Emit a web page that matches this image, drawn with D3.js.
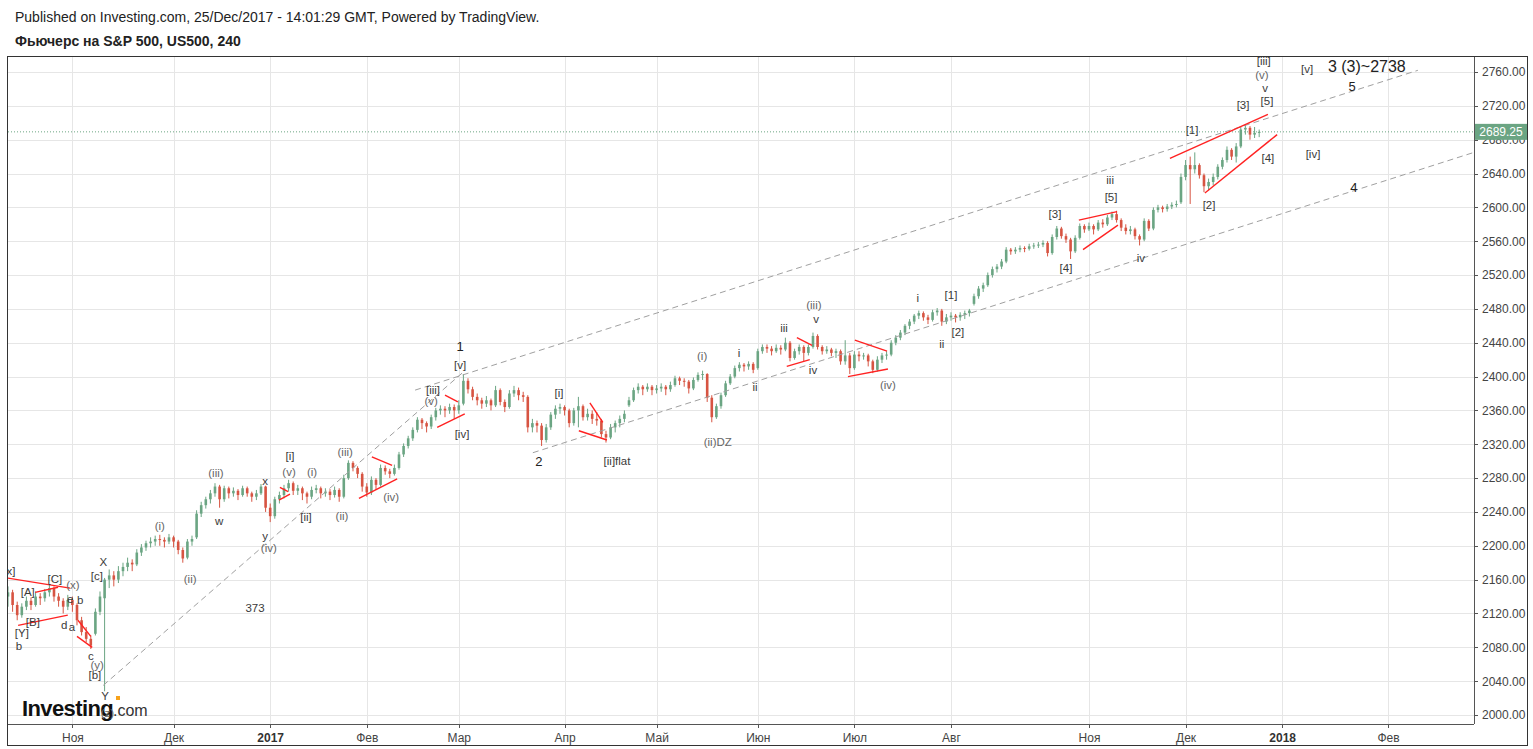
<!DOCTYPE html>
<html lang="ru">
<head>
<meta charset="UTF-8">
<title>Фьючерс на S&amp;P 500, US500, 240</title>
<script src="https://d3js.org/d3.v7.min.js"></script>
<style>
  body { margin: 0; background: #fff; font-family: "Liberation Sans", Arial, sans-serif; }
  svg { display: block; }
  .grid line { stroke: #e6e6e6; stroke-width: 1; shape-rendering: crispEdges; }
  .axis text { fill: #444; font-size: 12px; font-family: "Liberation Sans Narrow", "Liberation Sans", Arial, sans-serif; }
  .axis line { stroke: #555; shape-rendering: crispEdges; }
  .axis .domain { display: none; }
  .wave { font-size: 11.5px; fill: #3a3a3a; text-anchor: middle; dominant-baseline: middle; }
  .wave.paren { fill: #666; }
  .major { font-size: 13px; fill: #222; text-anchor: middle; dominant-baseline: middle; }
  .target { font-size: 16px; fill: #222; text-anchor: middle; dominant-baseline: middle; }
  .header { font-size: 14px; fill: #222; }
</style>
</head>
<body>
<svg id="chart" width="1533" height="749"></svg>
<script>
// daily candles [open, high, low, close]
const candles = [
  [2140,2152,2128,2145],[2145,2148,2122,2130],[2130,2134,2112,2118],[2118,2132,2115,2128],[2128,2140,2124,2135],
  [2135,2139,2124,2130],[2130,2146,2128,2140],[2140,2144,2130,2138],[2138,2149,2134,2145],[2145,2154,2140,2150],
  [2150,2152,2134,2140],[2140,2144,2128,2135],[2135,2138,2120,2128],[2128,2142,2124,2136],[2136,2140,2122,2130],
  [2130,2132,2106,2112],[2112,2116,2094,2098],[2098,2104,2086,2090],[2090,2094,2078,2082],[2096,2126,2094,2122],
  [2122,2146,2118,2140],[2138,2162,2028,2160],[2160,2172,2150,2165],[2165,2170,2152,2160],[2160,2176,2156,2170],
  [2170,2180,2164,2175],[2175,2186,2170,2180],[2180,2184,2170,2178],[2178,2196,2176,2192],[2192,2202,2188,2198],
  [2198,2206,2194,2203],[2203,2210,2198,2205],[2205,2212,2200,2208],[2208,2213,2200,2207],[2207,2210,2198,2205],
  [2205,2214,2202,2210],[2210,2212,2198,2205],[2205,2207,2190,2195],[2195,2198,2180,2185],[2186,2208,2184,2205],
  [2205,2212,2200,2208],[2210,2242,2208,2238],[2238,2252,2234,2248],[2248,2258,2244,2255],[2255,2266,2250,2262],
  [2262,2274,2258,2270],[2270,2272,2245,2255],[2255,2271,2252,2268],[2268,2270,2256,2262],[2262,2269,2258,2265],
  [2265,2267,2254,2260],[2260,2271,2258,2268],[2268,2270,2258,2262],[2262,2264,2252,2258],[2258,2266,2254,2262],
  [2262,2273,2260,2270],[2270,2271,2240,2245],[2245,2250,2228,2235],[2235,2258,2232,2255],[2255,2264,2250,2260],
  [2260,2272,2256,2268],[2268,2278,2264,2274],[2274,2276,2260,2265],[2265,2272,2260,2268],[2268,2270,2254,2262],
  [2262,2264,2250,2258],[2258,2270,2255,2266],[2266,2272,2262,2268],[2268,2270,2256,2262],[2262,2268,2258,2264],
  [2264,2267,2254,2260],[2260,2270,2257,2266],[2266,2268,2252,2258],[2258,2284,2256,2280],[2280,2301,2278,2298],
  [2298,2300,2288,2292],[2292,2294,2280,2285],[2285,2287,2264,2270],[2270,2274,2258,2263],[2263,2282,2260,2278],
  [2278,2280,2266,2272],[2272,2296,2270,2292],[2292,2295,2284,2288],[2288,2291,2280,2285],[2285,2296,2283,2292],
  [2292,2311,2290,2308],[2308,2321,2305,2318],[2318,2330,2315,2327],[2327,2340,2324,2337],[2337,2352,2334,2349],
  [2349,2351,2338,2345],[2345,2347,2334,2341],[2341,2355,2338,2352],[2352,2363,2348,2360],[2360,2366,2355,2362],
  [2362,2365,2352,2360],[2360,2368,2356,2364],[2364,2367,2350,2360],[2360,2372,2356,2366],[2368,2403,2366,2395],
  [2395,2398,2380,2385],[2385,2388,2372,2376],[2376,2380,2366,2372],[2372,2375,2362,2368],[2368,2377,2364,2372],
  [2372,2374,2360,2366],[2366,2389,2364,2384],[2384,2386,2366,2370],[2370,2373,2358,2364],[2364,2384,2362,2380],
  [2380,2389,2376,2384],[2384,2387,2372,2378],[2378,2382,2370,2376],[2376,2378,2334,2340],[2340,2350,2334,2345],
  [2345,2348,2334,2342],[2342,2345,2318,2325],[2325,2344,2322,2340],[2340,2358,2337,2355],[2355,2366,2350,2362],
  [2362,2368,2356,2364],[2364,2366,2354,2360],[2360,2362,2340,2345],[2345,2363,2342,2360],[2360,2376,2340,2365],
  [2365,2367,2348,2352],[2352,2362,2348,2356],[2356,2360,2344,2350],[2350,2358,2342,2348],[2348,2350,2328,2332],
  [2332,2336,2322,2328],[2328,2344,2326,2340],[2340,2348,2334,2345],[2345,2354,2340,2350],[2350,2360,2346,2356],
  [2366,2376,2364,2372],[2372,2387,2370,2384],[2384,2392,2380,2388],[2388,2390,2378,2385],[2385,2392,2382,2388],
  [2388,2390,2378,2384],[2384,2390,2380,2386],[2386,2392,2382,2388],[2388,2390,2378,2385],[2385,2394,2382,2390],
  [2390,2401,2388,2398],[2398,2400,2390,2395],[2395,2398,2388,2394],[2394,2396,2380,2386],[2386,2399,2384,2396],
  [2396,2405,2394,2402],[2402,2407,2396,2403],[2403,2404,2370,2375],[2375,2378,2346,2352],[2352,2368,2350,2365],
  [2365,2381,2362,2378],[2378,2395,2376,2392],[2392,2403,2390,2400],[2400,2413,2398,2410],[2410,2417,2406,2414],
  [2414,2416,2406,2412],[2412,2418,2408,2415],[2415,2417,2404,2408],[2410,2433,2408,2430],[2430,2438,2427,2435],
  [2435,2438,2428,2433],[2433,2436,2425,2430],[2430,2438,2428,2434],[2434,2437,2426,2432],[2432,2446,2430,2440],
  [2440,2442,2418,2422],[2422,2433,2420,2430],[2430,2438,2426,2435],[2435,2437,2418,2428],[2428,2438,2425,2435],
  [2435,2452,2433,2448],[2448,2450,2432,2435],[2435,2437,2426,2430],[2430,2436,2427,2432],[2432,2434,2424,2428],
  [2428,2433,2422,2430],[2430,2432,2414,2418],[2418,2443,2414,2425],[2425,2428,2403,2410],[2410,2430,2408,2426],
  [2426,2430,2418,2424],[2424,2428,2420,2425],[2425,2427,2412,2418],[2418,2420,2404,2408],[2408,2424,2406,2420],
  [2420,2428,2416,2425],[2425,2430,2420,2426],[2426,2443,2424,2440],[2440,2449,2437,2446],[2446,2455,2443,2452],
  [2452,2462,2449,2460],[2460,2468,2456,2465],[2465,2474,2462,2472],[2472,2478,2468,2475],[2475,2477,2466,2470],
  [2470,2473,2462,2467],[2467,2479,2465,2476],[2476,2481,2472,2478],[2478,2480,2460,2465],[2465,2474,2462,2470],
  [2470,2476,2466,2472],[2472,2474,2464,2470],[2470,2476,2466,2473],[2473,2478,2468,2475],[2475,2480,2471,2478],
  [2486,2498,2484,2495],[2495,2507,2492,2504],[2504,2511,2500,2508],[2508,2523,2506,2520],[2520,2530,2517,2527],
  [2527,2533,2523,2530],[2530,2539,2527,2536],[2536,2553,2534,2550],[2550,2552,2544,2548],[2548,2553,2545,2550],
  [2550,2555,2547,2552],[2552,2554,2547,2551],[2551,2557,2549,2554],[2554,2558,2551,2555],[2555,2559,2552,2556],
  [2556,2561,2553,2558],[2558,2560,2542,2546],[2546,2568,2544,2565],[2565,2578,2562,2575],[2575,2577,2563,2566],
  [2566,2569,2558,2562],[2562,2564,2539,2548],[2548,2567,2546,2564],[2564,2581,2562,2578],[2578,2580,2570,2574],
  [2574,2582,2572,2578],[2578,2580,2568,2574],[2574,2585,2572,2582],[2582,2586,2576,2580],[2580,2591,2578,2588],
  [2588,2595,2585,2592],[2592,2596,2582,2585],[2585,2587,2572,2576],[2576,2580,2568,2572],[2572,2578,2568,2574],
  [2574,2576,2562,2566],[2566,2568,2555,2562],[2562,2587,2560,2584],[2584,2586,2572,2575],[2575,2600,2573,2597],
  [2597,2603,2594,2600],[2600,2602,2594,2598],[2598,2604,2595,2601],[2601,2606,2598,2603],[2603,2608,2600,2604],
  [2606,2640,2604,2636],[2636,2656,2632,2650],[2650,2660,2604,2645],[2645,2665,2640,2650],[2650,2652,2634,2638],
  [2638,2640,2618,2625],[2625,2634,2620,2630],[2630,2640,2626,2636],[2636,2651,2633,2648],[2648,2659,2645,2656],
  [2656,2672,2653,2668],[2668,2670,2656,2660],[2660,2676,2653,2672],[2672,2695,2670,2692],[2692,2698,2686,2694],
  [2694,2696,2680,2686],[2686,2695,2682,2688],[2688,2692,2683,2689.25]
];

// time axis: bar index where each month label sits
const monthLabels = ["Ноя", "Дек", "2017", "Фев", "Мар", "Апр", "Май", "Июн", "Июл", "Авг", "Ноя", "Дек", "2018", "Фев"];
const monthStarts = [14, 36, 57, 78, 98, 121, 141, 163, 184, 205, 235, 256, 277, 300];
const yearLabels = ["2017", "2018"];

const priceTicks = d3.range(2000, 2761, 40);
const lastPrice = 2689.25;

// gray dashed channel lines [[bar, price], [bar, price]]
const channelLines = [
  [[20.7, 2035], [98.7, 2404]],
  [[88.5, 2384], [306.5, 2762]],
  [[114.1, 2310], [318.7, 2665]]
];

// red triangle / wedge lines
const wedgeLines = [
  [[-0.2, 2162], [13.5, 2150]], [[2.2, 2106], [13.0, 2118]], [[5.9, 2145], [10.9, 2151]],
  [[15.2, 2112], [18.0, 2093]], [[15.0, 2093], [18.3, 2080]],
  [[59.1, 2269], [60.9, 2264]], [[58.9, 2254], [61.3, 2261]],
  [[79.1, 2305], [83.5, 2295]], [[76.3, 2256], [84.6, 2279]],
  [[95.0, 2378], [97.8, 2370]], [[93.3, 2340], [99.3, 2356]],
  [[126.5, 2369], [129.3, 2346]], [[124.1, 2336], [130.2, 2325]],
  [[171.5, 2446], [174.8, 2437]], [[169.3, 2412], [174.3, 2420]],
  [[184.1, 2443], [191.1, 2430]], [[182.6, 2400], [191.3, 2409]],
  [[232.8, 2585], [241.1, 2595]], [[233.7, 2550], [241.3, 2579]],
  [[252.6, 2658], [273.9, 2710]], [[260.2, 2617], [275.9, 2686]]
];

// Elliott wave labels [text, bar, price]
const waveLabels = [
  ["[x]", 0.3, 2169], ["[A]", 4.3, 2144], ["[C]", 10.2, 2160], ["(x)", 14.1, 2152], ["e", 13.5, 2136],
  ["b", 15.7, 2135], ["d", 12.2, 2105], ["a", 13.9, 2103], ["[B]", 5.4, 2109], ["[Y]", 3.0, 2096],
  ["b", 2.4, 2080], ["X", 20.7, 2180], ["[c]", 19.3, 2163], ["c", 18.0, 2069], ["(y)", 19.4, 2058],
  ["[b]", 18.9, 2046], ["Y", 21.1, 2021], ["(z)", 21.6, 2001], ["(i)", 33.0, 2222], ["(ii)", 39.6, 2160],
  ["(iii)", 45.2, 2285], ["w", 45.9, 2228], ["x", 55.9, 2275], ["y", 55.9, 2210], ["(iv)", 56.7, 2196],
  ["373", 53.7, 2125], ["[i]", 61.3, 2305], ["(v)", 61.1, 2286], ["(i)", 66.1, 2286], ["[ii]", 64.8, 2233],
  ["(ii)", 72.6, 2234], ["(iii)", 73.3, 2310], ["(iv)", 83.3, 2256], ["[iii]", 92.4, 2383], ["(v)", 92.0, 2370],
  ["[iv]", 98.7, 2331], ["[v]", 98.3, 2412], ["[i]", 119.8, 2379], ["[ii]flat", 132.4, 2299], ["(i)", 150.9, 2423],
  ["i", 158.9, 2427], ["(ii)DZ", 154.3, 2321], ["ii", 162.4, 2386], ["iii", 168.7, 2456], ["(iii)", 175.2, 2483],
  ["v", 175.7, 2467], ["iv", 175.0, 2407], ["(iv)", 191.3, 2389], ["i", 197.8, 2492], ["[1]", 205.0, 2495],
  ["[2]", 206.5, 2451], ["ii", 203.0, 2437], ["[3]", 227.6, 2591], ["[4]", 230.0, 2527], ["iii", 239.6, 2631],
  ["[5]", 239.8, 2611], ["iv", 246.3, 2539], ["[1]", 257.4, 2690], ["[2]", 261.1, 2602], ["[3]", 268.5, 2720],
  ["[4]", 273.9, 2657], ["[5]", 273.7, 2725], ["v", 273.3, 2740], ["(v)", 272.6, 2755], ["[iii]", 273.0, 2772],
  ["[v]", 282.4, 2762], ["[iv]", 283.7, 2662]
];
const majorLabels = [["1", 98.3, 2434], ["2", 115.4, 2298], ["5", 292.2, 2742], ["4", 292.6, 2622]];
const targetLabels = [["3 (3)~2738", 295.4, 2765]];

const plot = { left: 8, top: 56, right: 1474, bottom: 724 };
const upColor = "#6ba583", downColor = "#d75442";

const svg = d3.select("#chart");

const x = d3.scaleLinear().domain([0, 318.7]).range([plot.left, plot.right]);
const y = d3.scaleLinear().domain([2000, 2760]).range([715, 72]);

// header
svg.append("text").attr("class", "header").attr("x", 15).attr("y", 22)
  .text("Published on Investing.com, 25/Dec/2017 - 14:01:29 GMT, Powered by TradingView.");
svg.append("text").attr("class", "header").attr("x", 15).attr("y", 46)
  .style("font-weight", "bold")
  .text("Фьючерс на S&P 500, US500, 240");

// grid
const grid = svg.append("g").attr("class", "grid");
grid.selectAll(".v").data(monthStarts).join("line")
  .attr("x1", d => Math.round(x(d)) + 0.5).attr("x2", d => Math.round(x(d)) + 0.5)
  .attr("y1", plot.top).attr("y2", plot.bottom);
grid.selectAll(".h").data(priceTicks).join("line")
  .attr("x1", plot.left).attr("x2", plot.right)
  .attr("y1", d => Math.round(y(d)) + 0.5).attr("y2", d => Math.round(y(d)) + 0.5);

svg.append("clipPath").attr("id", "plotClip").append("rect")
  .attr("x", plot.left).attr("y", plot.top)
  .attr("width", plot.right - plot.left).attr("height", plot.bottom - plot.top);

const g = svg.append("g").attr("clip-path", "url(#plotClip)");

// last price dotted line
g.append("line")
  .attr("x1", plot.left).attr("x2", plot.right)
  .attr("y1", y(lastPrice)).attr("y2", y(lastPrice))
  .attr("stroke", upColor).attr("stroke-dasharray", "1,2");

// candles
const bars = g.append("g").selectAll("g").data(candles).join("g");
bars.append("line")
  .attr("x1", (d, i) => x(i)).attr("x2", (d, i) => x(i))
  .attr("y1", d => y(d[1])).attr("y2", d => y(d[2]))
  .attr("stroke", d => d[3] >= d[0] ? upColor : downColor)
  .attr("stroke-width", 1);
bars.append("rect")
  .attr("x", (d, i) => x(i) - 1.3)
  .attr("width", 2.6)
  .attr("y", d => y(Math.max(d[0], d[3])))
  .attr("height", d => Math.max(1, Math.abs(y(d[0]) - y(d[3]))))
  .attr("fill", d => d[3] >= d[0] ? upColor : downColor);

// channel lines
const lineGen = d3.line().x(d => x(d[0])).y(d => y(d[1]));
g.append("g").selectAll("path").data(channelLines).join("path")
  .attr("d", lineGen)
  .attr("fill", "none").attr("stroke", "#a0a0a0")
  .attr("stroke-width", 1).attr("stroke-dasharray", "6,4");

// red wedge lines
g.append("g").selectAll("path").data(wedgeLines).join("path")
  .attr("d", lineGen)
  .attr("fill", "none").attr("stroke", "#f22")
  .attr("stroke-width", 1.4);

// Investing.com logo (drawn under the wave labels)
const logo = g.append("g").attr("transform", "translate(22,716)");
logo.append("text").attr("x", 0).attr("y", 0)
  .style("font-size", "22px").style("font-weight", "900").style("fill", "#111")
  .style("letter-spacing", "-0.6px")
  .text("Investing");
logo.append("text").attr("x", 91).attr("y", 0)
  .style("font-size", "16px").style("fill", "#333")
  .text(".com");
logo.append("rect").attr("x", 94).attr("y", -20).attr("width", 4).attr("height", 4).attr("fill", "#f7a21b");

// wave labels
g.append("g").selectAll("text").data(waveLabels).join("text")
  .attr("class", d => d[0].startsWith("(") ? "wave paren" : "wave")
  .attr("x", d => x(d[1])).attr("y", d => y(d[2]))
  .text(d => d[0]);
g.append("g").selectAll("text").data(majorLabels).join("text")
  .attr("class", "major")
  .attr("x", d => x(d[1])).attr("y", d => y(d[2]))
  .text(d => d[0]);
g.append("g").selectAll("text").data(targetLabels).join("text")
  .attr("class", "target")
  .attr("x", d => x(d[1])).attr("y", d => y(d[2]))
  .text(d => d[0]);

// axes
const yAxis = d3.axisRight(y).tickValues(priceTicks).tickSize(4).tickPadding(4).tickFormat(d3.format(".2f"));
svg.append("g").attr("class", "axis").attr("transform", `translate(${plot.right},0)`).call(yAxis);

const xAxis = d3.axisBottom(x).tickValues(monthStarts).tickSize(4).tickPadding(5)
  .tickFormat((d, i) => monthLabels[i]);
const xg = svg.append("g").attr("class", "axis").attr("transform", `translate(0,${plot.bottom})`).call(xAxis);
xg.selectAll("text").style("font-weight", (d, i) => yearLabels.includes(monthLabels[i]) ? "bold" : null)
  .style("fill", (d, i) => yearLabels.includes(monthLabels[i]) ? "#333" : null);

// axis lines and frame
svg.append("line").attr("x1", 7).attr("x2", plot.right).attr("y1", plot.bottom + 0.5).attr("y2", plot.bottom + 0.5)
  .attr("stroke", "#555");
svg.append("line").attr("x1", plot.right + 0.5).attr("x2", plot.right + 0.5).attr("y1", plot.top).attr("y2", plot.bottom)
  .attr("stroke", "#555");
svg.append("rect").attr("x", 7.5).attr("y", 56.5).attr("width", 1520).attr("height", 689)
  .attr("fill", "none").attr("stroke", "#333");

// last price tag
const tag = svg.append("g").attr("transform", `translate(${plot.right + 1},${y(lastPrice)})`);
tag.append("rect").attr("x", 0).attr("y", -8).attr("width", 52).attr("height", 16).attr("fill", upColor);
tag.append("text").attr("x", 26).attr("y", 0).attr("text-anchor", "middle").attr("dominant-baseline", "central")
  .style("font-size", "12px").style("fill", "#fff")
  .style("font-family", "'Liberation Sans Narrow','Liberation Sans',Arial,sans-serif")
  .text(lastPrice.toFixed(2));
</script>
</body>
</html>
